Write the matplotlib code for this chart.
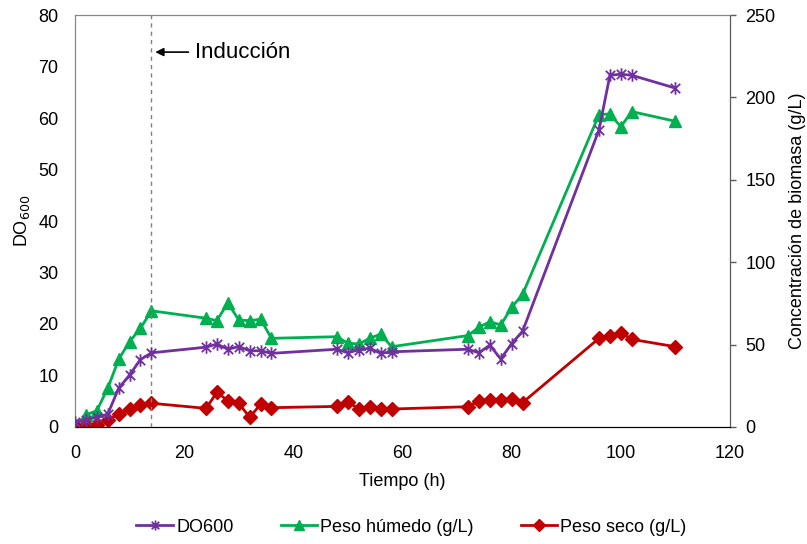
import numpy as np
import matplotlib
matplotlib.use("Agg")
import matplotlib.pyplot as plt
from matplotlib.path import Path

plt.rcParams['font.family'] = ['Liberation Sans', 'DejaVu Sans']

# sampling times (h)
tiempo = [0, 2, 4, 6, 8, 10, 12, 14, 24, 26, 28, 30, 32, 34, 36,
          48, 50, 52, 54, 56, 58, 72, 74, 76, 78, 80, 82, 96, 98, 100, 102, 110]

# optical density at 600 nm
do600 = [0.9, 1.4, 1.9, 2.5, 7.5, 10.1, 13.1, 14.4, 15.5, 16.1, 15.1, 15.6, 14.8, 14.8, 14.3,
         15.1, 14.4, 15.0, 15.3, 14.3, 14.6, 15.1, 14.4, 15.9, 13.2, 16.2, 18.6,
         57.7, 68.3, 68.5, 68.3, 65.8]

# wet weight (g/L)
peso_humedo = [0, 7.3, 9.9, 23.5, 41, 51.8, 59.9, 70.5, 66, 64.5, 75.4, 64.9, 64.5, 65.4, 53.8,
               54.8, 50.8, 50.4, 53.8, 56.4, 48.7, 55.5, 60.5, 63.9, 61.9, 72.6, 80.5,
               189.5, 190, 182.2, 191.4, 185.5]

# dry weight (g/L)
peso_seco = [0.6, 1.2, 1.4, 4.2, 7.7, 10.7, 13.2, 14.4, 11.3, 21, 16, 14.4, 5.9, 13.8, 11.7,
             12.5, 15.4, 10.9, 12.3, 10.9, 10.9, 12.3, 15.8, 16.4, 16.4, 17, 14.8,
             53.8, 55.2, 57.2, 53.2, 48.7]

t_induccion = 14

# asterisk marker: vertical stroke plus an X
asterisco = Path([(0, -1), (0, 1), (-0.75, -0.75), (0.75, 0.75), (-0.75, 0.75), (0.75, -0.75)],
                 [Path.MOVETO, Path.LINETO, Path.MOVETO, Path.LINETO, Path.MOVETO, Path.LINETO])

fig = plt.figure(figsize=(8.07, 5.44), dpi=100)
ax = fig.add_axes([0.0929, 0.2151, 0.8117, 0.7573])
ax2 = ax.twinx()

morado = '#7030A0'
verde = '#00B050'
rojo = '#C00000'

l2, = ax2.plot(tiempo, peso_humedo, color=verde, lw=2, marker='^', ms=9,
               label='Peso húmedo (g/L)', zorder=2)
l3, = ax2.plot(tiempo, peso_seco, color=rojo, lw=2, marker='D', ms=7.5,
               label='Peso seco (g/L)', zorder=3)
l1, = ax.plot(tiempo, do600, color=morado, lw=2, marker=asterisco, ms=9, mew=1.3,
              label='DO600', zorder=4)

# primary axis drawn above the twin so DO600 stays on top
ax.set_zorder(ax2.get_zorder() + 1)
ax.patch.set_visible(False)

ax.axvline(t_induccion, color='#808080', lw=1, ls=(0, (3, 3)), zorder=1)
ax.annotate('', xy=(t_induccion + 0.2, 72.8), xytext=(21.3, 72.8),
            arrowprops=dict(arrowstyle='-|>', color='black', lw=1.2, mutation_scale=12))
ax.text(22, 72.8, 'Inducción', fontsize=16, va='center', ha='left')

ax.set_xlim(0, 120)
ax.set_ylim(0, 80)
ax2.set_ylim(0, 250)
ax.set_xticks(np.arange(0, 121, 20))
ax.set_yticks(np.arange(0, 81, 10))
ax2.set_yticks(np.arange(0, 251, 50))

ax.tick_params(axis='both', length=0, labelsize=13)
ax.tick_params(axis='x', pad=13)
ax.tick_params(axis='y', pad=12)
ax2.tick_params(axis='y', length=4, width=1, color='#595959', labelsize=13, pad=7)

for a in (ax, ax2):
    a.spines['top'].set_color('#868686')
    a.spines['left'].set_color('#868686')
    a.spines['right'].set_color('#595959')
    a.spines['bottom'].set_color('black')

ax.set_xlabel('Tiempo (h)', fontsize=13, labelpad=8)
ax.set_ylabel('DO$_{600}$', fontsize=13, labelpad=4)
ax2.set_ylabel('Concentración de biomasa (g/L)', fontsize=13, labelpad=10)

fig.legend(handles=[l1, l2, l3], loc='center', bbox_to_anchor=(0.51, 0.031), ncol=3,
           frameon=False, fontsize=13, handlelength=2.0, handletextpad=0.2,
           columnspacing=2.6, markerscale=0.8)

fig.savefig('out.png', dpi=100)
